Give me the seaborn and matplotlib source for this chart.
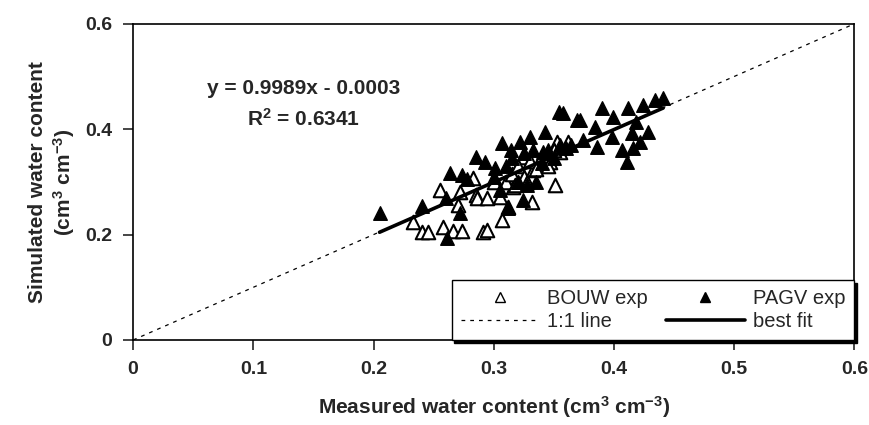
import numpy as np
import pandas as pd
import seaborn as sns
import matplotlib.pyplot as plt
from matplotlib.lines import Line2D

# BOUW experiment (open triangles)
bouw_measured = [0.233, 0.240, 0.245, 0.258, 0.266, 0.274, 0.255, 0.270, 0.272, 0.285,
                 0.283, 0.291, 0.351, 0.294, 0.307, 0.312, 0.286, 0.294, 0.305, 0.332,
                 0.316, 0.333, 0.353, 0.362, 0.355, 0.324, 0.347, 0.310, 0.315, 0.320,
                 0.325, 0.330, 0.335, 0.340, 0.345, 0.350, 0.300, 0.318, 0.328]
bouw_simulated = [0.224, 0.205, 0.205, 0.214, 0.207, 0.207, 0.285, 0.256, 0.281, 0.275,
                  0.307, 0.205, 0.294, 0.209, 0.228, 0.252, 0.269, 0.269, 0.271, 0.262,
                  0.290, 0.322, 0.376, 0.376, 0.357, 0.347, 0.338, 0.300, 0.315, 0.330,
                  0.310, 0.340, 0.325, 0.350, 0.330, 0.360, 0.300, 0.295, 0.300]

# PAGV experiment (filled triangles)
pagv_measured = [0.205, 0.240, 0.261, 0.264, 0.274, 0.278, 0.260, 0.272, 0.305, 0.324,
                 0.328, 0.320, 0.312, 0.354, 0.358, 0.369, 0.343, 0.330, 0.322, 0.307,
                 0.314, 0.333, 0.341, 0.285, 0.293, 0.301, 0.434, 0.441, 0.390, 0.412,
                 0.424, 0.399, 0.372, 0.384, 0.418, 0.415, 0.428, 0.398, 0.374, 0.364,
                 0.386, 0.422, 0.416, 0.407, 0.411, 0.310, 0.315, 0.320, 0.325, 0.335,
                 0.340, 0.345, 0.350, 0.355, 0.360, 0.300]
pagv_simulated = [0.241, 0.254, 0.194, 0.317, 0.313, 0.305, 0.270, 0.241, 0.285, 0.266,
                  0.294, 0.300, 0.250, 0.433, 0.431, 0.417, 0.395, 0.385, 0.376, 0.374,
                  0.361, 0.361, 0.357, 0.347, 0.338, 0.326, 0.455, 0.459, 0.440, 0.440,
                  0.446, 0.423, 0.417, 0.404, 0.414, 0.393, 0.395, 0.385, 0.380, 0.370,
                  0.366, 0.376, 0.364, 0.361, 0.338, 0.330, 0.345, 0.300, 0.355, 0.300,
                  0.335, 0.360, 0.345, 0.370, 0.365, 0.310]

slope = 0.9989
intercept = -0.0003
r_squared = 0.6341

x_ticks = [0, 0.1, 0.2, 0.3, 0.4, 0.5, 0.6]
y_ticks = [0, 0.2, 0.4, 0.6]

sns.set_style('white')
plt.rcParams['font.family'] = ['Liberation Sans', 'DejaVu Sans']
plt.rcParams['mathtext.fontset'] = 'custom'
plt.rcParams['mathtext.rm'] = 'Liberation Sans:bold'
plt.rcParams['mathtext.it'] = 'Liberation Sans:bold'
plt.rcParams['mathtext.bf'] = 'Liberation Sans:bold'

df_bouw = pd.DataFrame({'measured': bouw_measured, 'simulated': bouw_simulated})
df_pagv = pd.DataFrame({'measured': pagv_measured, 'simulated': pagv_simulated})

fig, ax = plt.subplots(figsize=(8.7, 4.25), dpi=100)
fig.subplots_adjust(left=0.153, right=0.982, top=0.944, bottom=0.2)

# 1:1 line
ax.plot([0, 0.6], [0, 0.6], color='black', lw=0.9, linestyle=(0, (3, 4)), zorder=1)

sns.scatterplot(data=df_bouw, x='measured', y='simulated', marker='^', s=95,
                facecolor='white', edgecolor='black', linewidth=1.5, ax=ax, zorder=3)
sns.scatterplot(data=df_pagv, x='measured', y='simulated', marker='^', s=95,
                color='black', edgecolor='black', linewidth=1.0, ax=ax, zorder=3)

# best fit line over the range of measured data
all_x = np.array(bouw_measured + pagv_measured)
fx = np.array([all_x.min(), all_x.max()])
ax.plot(fx, slope * fx + intercept, color='black', lw=2.6, zorder=4)

ax.text(0.142, 0.478, 'y = %.4fx - %.4f' % (slope, abs(intercept)), ha='center',
        va='center', fontsize=15, fontweight='bold')
ax.text(0.142, 0.42, r'R$^2$ = %.4f' % r_squared, ha='center', va='center',
        fontsize=15, fontweight='bold')

ax.set_xlim(0, 0.6)
ax.set_ylim(0, 0.6)
ax.set_xticks(x_ticks)
ax.set_xticklabels([('%g' % t) for t in x_ticks])
ax.set_yticks(y_ticks)
ax.set_yticklabels([('%g' % t) for t in y_ticks])
ax.tick_params(axis='both', direction='out', length=7, width=1.2, labelsize=14,
               bottom=True, left=True, pad=8)
for lab in ax.get_xticklabels() + ax.get_yticklabels():
    lab.set_fontweight('bold')
for sp in ax.spines.values():
    sp.set_visible(True)
    sp.set_color('black')
    sp.set_linewidth(1.2)

ax.set_xlabel('Measured water content (cm$^3$ cm$^{-3}$)', fontsize=15,
              fontweight='bold', labelpad=12)
ax.set_ylabel('Simulated water content\n(cm$^3$ cm$^{-3}$)', fontsize=15,
              fontweight='bold', labelpad=6)

handles = [
    Line2D([], [], marker='^', ms=7.5, mfc='white', mec='black', mew=1.0, ls='none'),
    Line2D([], [], color='black', lw=0.9, ls=(0, (3, 4))),
    Line2D([], [], marker='^', ms=7.5, mfc='black', mec='black', ls='none'),
    Line2D([], [], color='black', lw=2.6),
]
labels = ['BOUW exp', '1:1 line', 'PAGV exp', 'best fit']
leg = ax.legend(handles, labels, ncol=2, loc='lower right', borderaxespad=0,
                fontsize=14.5, frameon=True, fancybox=False, edgecolor='black',
                framealpha=1, handlelength=3.9, handletextpad=0.4, columnspacing=0.9,
                labelspacing=0.2, borderpad=0.45,
                shadow={'color': 'black', 'alpha': 1})
leg.get_frame().set_linewidth(1.0)

plt.savefig('out.png')
